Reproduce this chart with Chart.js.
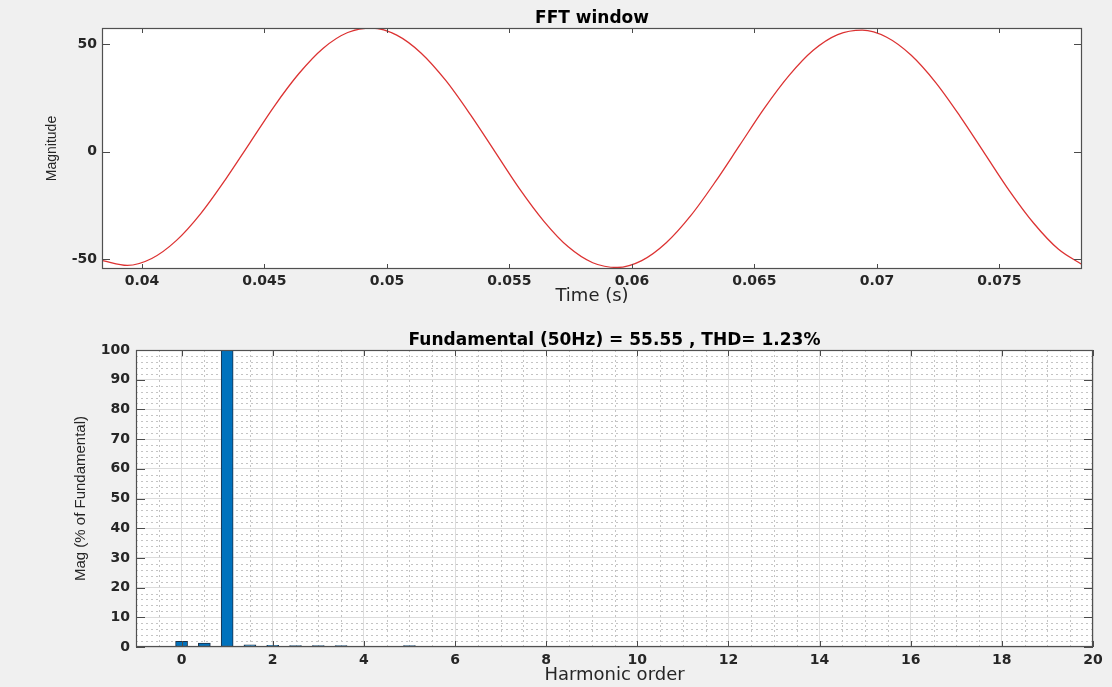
<!DOCTYPE html>
<html><head><meta charset="utf-8">
<script src="https://cdn.jsdelivr.net/npm/chart.js@4.4.1/dist/chart.umd.min.js"></script>
<style>
html,body{margin:0;padding:0;background:#f0f0f0;}
#wrap{position:relative;width:1112px;height:687px;overflow:hidden;background:#f0f0f0;}
canvas{position:absolute;left:0;}
#c1{top:0;} #c2{top:310px;}
</style></head><body>
<div id="wrap"><canvas id="c1" width="1112" height="310"></canvas><canvas id="c2" width="1112" height="377"></canvas></div>
<script>
// ---- top panel: FFT window signal ----
const timeS = [0.0384,0.0394,0.0404,0.0414,0.0424,0.0434,0.0444,0.0454,0.0464,0.0474,
               0.0484,0.0494,0.0504,0.0514,0.0524,0.0534,0.0544,0.0554,0.0564,0.0574,
               0.0584,0.0594,0.0604,0.0614,0.0624,0.0634,0.0644,0.0654,0.0664,0.0674,
               0.0684,0.0694,0.0704,0.0714,0.0724,0.0734,0.0744,0.0754,0.0764,0.0774,0.0784];
const magnitude = [-50.6,-52.8,-49.6,-41.3,-28.7,-13.0,4.1,21.2,36.3,48.2,
                   55.5,57.6,54.3,45.9,33.2,17.4,0.2,-17.0,-32.2,-44.2,
                   -51.6,-53.8,-50.6,-42.3,-29.7,-14.0,3.1,20.2,35.3,47.2,
                   54.5,56.6,53.3,44.9,32.2,16.4,-0.8,-18.0,-33.2,-45.2,-52.6];
const timeTicks = [0.04,0.045,0.05,0.055,0.06,0.065,0.07,0.075];
const timeTickLabels = ['0.04','0.045','0.05','0.055','0.06','0.065','0.07','0.075'];
const magTicks = [-50,0,50];
const timeRange = [0.03837,0.07837];
const magRange = [-54.5,57.6];

// ---- bottom panel: harmonic spectrum ----
const harmonicOrder = [0,0.5,1,1.5,2,2.5,3,3.5,5];
const harmonicMag   = [1.9,1.35,100,0.7,0.55,0.5,0.5,0.5,0.5];
const harmTicks = [0,2,4,6,8,10,12,14,16,18,20];
const harmMinor = [];
for (let k=-1;k<=39;k++){ const v=k*0.5; if (v%2!==0) harmMinor.push(v); }
const pctTicks = [0,10,20,30,40,50,60,70,80,90,100];
const pctMinor = [];
for (let v=2; v<100; v+=2){ if (v%10!==0) pctMinor.push(v); }
const harmRange = [-1,20];
const pctRange = [0,100];

const tickFont = {family:'DejaVu Sans', size:14, weight:'bold'};
const titleFont = {family:'DejaVu Sans', size:17, weight:'bold'};
const xTitleFont = {family:'DejaVu Sans', size:18};
const textCol = '#262626';

const matlabAxes = {
  id:'matlabAxes',
  beforeDraw(chart){
    const {ctx, chartArea:a} = chart;
    ctx.save(); ctx.fillStyle='#ffffff'; ctx.fillRect(a.left,a.top,a.right-a.left,a.bottom-a.top); ctx.restore();
  },
  beforeDatasetsDraw(chart, args, opts){
    if (!opts.minorX) return;
    const {ctx, chartArea:a} = chart; const xs=chart.scales.x, ys=chart.scales.y;
    ctx.save(); ctx.strokeStyle=opts.minorColor; ctx.lineWidth=1; ctx.setLineDash([2,3]);
    ctx.beginPath();
    opts.minorX.forEach(v=>{const p=Math.round(xs.getPixelForValue(v))+0.5; ctx.moveTo(p,a.top); ctx.lineTo(p,a.bottom);});
    opts.minorY.forEach(v=>{const p=Math.round(ys.getPixelForValue(v))+0.5; ctx.moveTo(a.left,p); ctx.lineTo(a.right,p);});
    ctx.stroke(); ctx.restore();
  },
  afterDraw(chart, args, opts){
    const {ctx, chartArea:a} = chart; const xs=chart.scales.x, ys=chart.scales.y;
    ctx.save(); ctx.strokeStyle='#4a4a4a'; ctx.lineWidth=1; ctx.beginPath();
    xs.ticks.forEach(t=>{const p=Math.round(xs.getPixelForValue(t.value))+0.5;
      ctx.moveTo(p,a.bottom); ctx.lineTo(p,a.bottom-opts.xLen);
      ctx.moveTo(p,a.top); ctx.lineTo(p,a.top+opts.xLen);});
    ys.ticks.forEach(t=>{const p=Math.round(ys.getPixelForValue(t.value))+0.5;
      ctx.moveTo(a.left,p); ctx.lineTo(a.left+opts.yLen,p);
      ctx.moveTo(a.right,p); ctx.lineTo(a.right-opts.yLen,p);});
    ctx.stroke();
    ctx.lineWidth=1.2; ctx.strokeStyle='#505050';
    ctx.strokeRect(a.left+0.5,a.top+0.5,a.right-a.left-1,a.bottom-a.top-1);
    ctx.restore();
  }
};

function fixTicks(vals){ return function(scale){ scale.ticks = vals.map(v=>({value:v})); }; }
function titleAxis(text, h, padTop, range){
  return {type:'linear', position:'top', min:range[0], max:range[1], offset:false,
    afterFit(s){s.height=h;},
    grid:{display:false, drawTicks:false}, border:{display:false}, ticks:{display:false},
    title:{display:true, text:text, font:titleFont, color:'#000', padding:{top:padTop,bottom:0}}};
}

new Chart(document.getElementById('c1'), {
  type:'line',
  data:{datasets:[{data: timeS.map((t,i)=>({x:t,y:magnitude[i]})), borderColor:'#dc3232', borderWidth:1.3,
    pointRadius:0, cubicInterpolationMode:'monotone', fill:false}]},
  options:{
    responsive:false, animation:false, devicePixelRatio:1,
    layout:{padding:{left:0,right:30,top:0,bottom:0}},
    plugins:{legend:{display:false}, tooltip:{enabled:false}, title:{display:false},
      matlabAxes:{xLen:5, yLen:8}},
    scales:{
      x:{type:'linear', min:timeRange[0], max:timeRange[1], afterBuildTicks:fixTicks(timeTicks),
        afterFit(s){s.height=41;},
        grid:{display:false, drawTicks:false}, border:{display:false},
        ticks:{font:tickFont, color:textCol, padding:4, maxRotation:0, autoSkip:false,
          callback:(v)=>timeTickLabels[timeTicks.findIndex(t=>Math.abs(t-v)<1e-9)]},
        title:{display:true, text:'Time (s)', font:xTitleFont, color:textCol, padding:{top:0,bottom:3}}},
      xTitle: titleAxis('FFT window', 28, 8, timeRange),
      y:{type:'linear', min:magRange[0], max:magRange[1], afterBuildTicks:fixTicks(magTicks),
        afterFit(s){s.width=102;},
        grid:{display:false, drawTicks:false}, border:{display:false},
        ticks:{font:tickFont, color:textCol, padding:5},
        title:{display:true, text:'Magnitude', font:{family:'Liberation Sans', size:14}, color:textCol, padding:{top:44,bottom:0}}}
    }
  },
  plugins:[matlabAxes]
});

new Chart(document.getElementById('c2'), {
  type:'bar',
  data:{datasets:[{data: harmonicOrder.map((h,i)=>({x:h,y:harmonicMag[i]})), backgroundColor:'#0072bd',
    borderColor:'#1b2f45', borderWidth:1, barThickness:12, borderSkipped:false, xAxisID:'x', yAxisID:'y'}]},
  options:{
    responsive:false, animation:false, devicePixelRatio:1,
    layout:{padding:{left:0,right:19,top:0,bottom:0}},
    plugins:{legend:{display:false}, tooltip:{enabled:false}, title:{display:false},
      matlabAxes:{xLen:6, yLen:9, minorX:harmMinor, minorY:pctMinor, minorColor:'#c4c4c4'}},
    scales:{
      x:{type:'linear', offset:false, min:harmRange[0], max:harmRange[1], afterBuildTicks:fixTicks(harmTicks),
        afterFit(s){s.height=40;},
        grid:{display:true, offset:false, color:'#dcdcdc', drawTicks:false}, border:{display:false},
        ticks:{font:tickFont, color:textCol, padding:5, maxRotation:0, autoSkip:false},
        title:{display:true, text:'Harmonic order', font:xTitleFont, color:textCol, padding:{top:0,bottom:1}}},
      xTitle: titleAxis('Fundamental (50Hz) = 55.55 , THD= 1.23%', 40, 20, harmRange),
      y:{type:'linear', min:pctRange[0], max:pctRange[1], afterBuildTicks:fixTicks(pctTicks),
        afterFit(s){s.width=136;},
        grid:{display:true, color:'#dcdcdc', drawTicks:false}, border:{display:false},
        ticks:{font:tickFont, color:textCol, padding:6},
        title:{display:true, text:'Mag (% of Fundamental)', font:{family:'Liberation Sans', size:15}, color:textCol, padding:{top:72,bottom:0}}}
    }
  },
  plugins:[matlabAxes]
});
</script>
</body></html>
